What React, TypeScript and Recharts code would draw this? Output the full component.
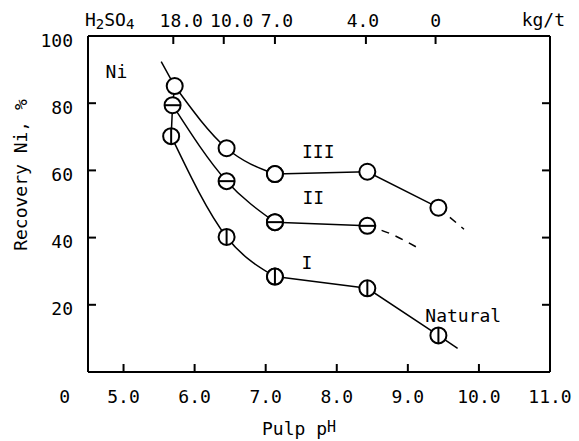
import { LineChart, Line, XAxis, YAxis, ReferenceDot } from "recharts"

const FONT = "'DejaVu Sans Mono', monospace"
const FS = 18

const phTicks = [5, 6, 7, 8, 9, 10, 11]
const phLabels = ["5.0", "6.0", "7.0", "8.0", "9.0", "10.0", "11.0"]
const recoveryTicks = [0, 20, 40, 60, 80, 100]
const sideTicks = [20, 40, 60, 80]
const acidPh = [5.7, 6.41, 7.13, 8.41, 9.39]
const acidLabels = ["18.0", "10.0", "7.0", "4.0", "0"]

// curve I (natural), II, III
const phI = [5.67, 6.45, 7.13, 8.43, 9.43]
const recI = [70.2, 40.2, 28.4, 24.9, 10.9]
const phII = [5.69, 6.45, 7.13, 8.43]
const recII = [79.4, 56.8, 44.6, 43.5]
const phIII = [5.72, 6.45, 7.13, 8.43, 9.43]
const recIII = [85.1, 66.6, 58.9, 59.6, 48.9]

// lead-in through the first points, and the tails
const phLead = [5.53, 5.72, 5.69, 5.67]
const recLead = [92.4, 85.1, 79.4, 70.2]
const phTailI = [9.43, 9.7]
const recTailI = [10.9, 7.0]
const phTailII = [8.43, 8.75, 9.12]
const recTailII = [43.5, 41.2, 37.2]
const phTailIII = [9.43, 9.79]
const recTailIII = [48.9, 42.5]

const notes = [
  { text: "Ni", ph: 4.9, rec: 89.4 },
  { text: "III", ph: 7.74, rec: 65.6 },
  { text: "II", ph: 7.67, rec: 51.8 },
  { text: "I", ph: 7.58, rec: 32.5 },
  { text: "Natural", ph: 9.78, rec: 16.7 },
]

// small nudges of the top labels, as printed
const acidDx = [8, 8, 2, -3, 0]

const zip = (xs: number[], ys: number[]) => xs.map((ph, i) => ({ ph, rec: ys[i] }))
// curved part up to pH ~7.1, then straight runs
const head = (xs: number[], ys: number[]) => zip(xs, ys).slice(0, 3)
const rest = (xs: number[], ys: number[]) => zip(xs, ys).slice(2)

const marker = (kind: "open" | "h" | "v") => (props: any) => {
  const { cx, cy, index } = props
  if (cx == null || cy == null) return <g key={`${kind}-${index}`} />
  return (
    <g key={`${kind}-${index}`}>
      <circle cx={cx} cy={cy} r={8} fill="#fff" stroke="#000" strokeWidth={2} />
      {kind === "h" && <line x1={cx - 8} x2={cx + 8} y1={cy} y2={cy} stroke="#000" strokeWidth={2} />}
      {kind === "v" && <line x1={cx} x2={cx} y1={cy - 8} y2={cy + 8} stroke="#000" strokeWidth={2} />}
    </g>
  )
}

function LeftTick(props: any) {
  const { x, y, payload } = props
  const zero = payload.value === 0
  return (
    <text
      x={zero ? x - 3 : x}
      y={zero ? y + 24 : y + 4}
      textAnchor="end"
      dominantBaseline="central"
      fontFamily={FONT}
      fontSize={FS}
      fill="#000"
    >
      {payload.value}
    </text>
  )
}

function TopTick(props: any) {
  const { x, y, index } = props
  return (
    <text x={x + acidDx[index]} y={y} textAnchor="middle" fontFamily={FONT} fontSize={FS} fill="#000">
      {acidLabels[index]}
    </text>
  )
}

const axisStyle = { stroke: "#000", strokeWidth: 2 }
const tickStyle = { fill: "#000", fontSize: FS, fontFamily: FONT }
const lineProps = { xAxisId: "ph", yAxisId: "rec", dataKey: "rec", stroke: "#000", strokeWidth: 1.5, isAnimationActive: false }

export default function App() {
  return (
    <div style={{ position: "absolute", left: 0, top: 0, background: "#fff" }}>
      <LineChart width={579} height={441} margin={{ top: 6, right: 0, bottom: 9, left: 8 }}>
        <XAxis
          xAxisId="ph"
          dataKey="ph"
          type="number"
          domain={[4.5, 11]}
          ticks={phTicks}
          allowDataOverflow
          interval={0}
          height={60}
          tickSize={-8}
          tickMargin={26}
          tickLine={axisStyle}
          axisLine={axisStyle}
          tick={tickStyle}
          tickFormatter={(v, i) => phLabels[i]}
          label={{
            content: (p: any) => {
              const vb = p.viewBox
              return (
                <text x={vb.x + 174} y={vb.y + 63} fontFamily={FONT} fontSize={FS} fill="#000">
                  Pulp p<tspan dy={-3} fontSize={15}>H</tspan>
                </text>
              )
            },
          }}
        />
        <XAxis
          xAxisId="top"
          dataKey="ph"
          orientation="top"
          type="number"
          domain={[4.5, 11]}
          ticks={acidPh}
          allowDataOverflow
          interval={0}
          height={30}
          tickSize={-8}
          tickMargin={17}
          tickLine={axisStyle}
          axisLine={axisStyle}
          tick={<TopTick />}
          label={{
            content: (p: any) => {
              const vb = p.viewBox
              return (
                <g fontFamily={FONT} fontSize={FS} fill="#000">
                  <text x={vb.x - 3} y={vb.y + 20}>
                    H<tspan dy={3} fontSize={14}>2</tspan>
                    <tspan dy={-3}>SO</tspan>
                    <tspan dy={3} fontSize={14}>4</tspan>
                  </text>
                  <text x={vb.x + vb.width + 15} y={vb.y + 20} textAnchor="end">kg/t</text>
                </g>
              )
            },
          }}
        />
        <YAxis
          yAxisId="rec"
          type="number"
          domain={[0, 100]}
          ticks={recoveryTicks}
          interval={0}
          width={80}
          tickSize={-8}
          tickMargin={23}
          tickLine={axisStyle}
          axisLine={axisStyle}
          tick={<LeftTick />}
          label={{
            content: (p: any) => {
              const vb = p.viewBox
              return (
                <text
                  transform={`translate(${vb.x + 12}, 175) rotate(-90)`}
                  textAnchor="middle"
                  dominantBaseline="central"
                  fontFamily={FONT}
                  fontSize={FS}
                  fill="#000"
                >
                  Recovery  Ni, %
                </text>
              )
            },
          }}
        />
        <YAxis
          yAxisId="side"
          orientation="right"
          type="number"
          domain={[0, 100]}
          ticks={sideTicks}
          interval={0}
          width={29}
          tickSize={-8}
          tickLine={axisStyle}
          axisLine={axisStyle}
          tick={() => <g />}
        />

        {/* lead-in drawn on the top / right axes (same domains) so those axes get their ticks */}
        <Line {...lineProps} xAxisId="top" yAxisId="side" data={zip(phLead, recLead)} type="linear" dot={false} />
        <Line {...lineProps} data={zip(phTailI, recTailI)} type="linear" dot={false} />
        <Line {...lineProps} data={zip(phTailII, recTailII)} type="monotone" strokeDasharray="8 7" dot={false} />
        <Line {...lineProps} data={zip(phTailIII, recTailIII)} type="linear" strokeDasharray="8 7" dot={false} />

        <Line {...lineProps} data={rest(phI, recI)} type="linear" dot={marker("v")} />
        <Line {...lineProps} data={head(phI, recI)} type="monotone" dot={marker("v")} />
        <Line {...lineProps} data={rest(phII, recII)} type="linear" dot={marker("h")} />
        <Line {...lineProps} data={head(phII, recII)} type="monotone" dot={marker("h")} />
        <Line {...lineProps} data={rest(phIII, recIII)} type="linear" dot={marker("open")} />
        <Line {...lineProps} data={head(phIII, recIII)} type="monotone" dot={marker("open")} />

        {notes.map((n) => (
          <ReferenceDot
            key={n.text}
            xAxisId="ph"
            yAxisId="rec"
            x={n.ph}
            y={n.rec}
            r={0}
            stroke="none"
            fill="none"
            label={{ value: n.text, position: "center", fill: "#000", fontSize: FS, fontFamily: FONT }}
          />
        ))}
      </LineChart>
    </div>
  )
}
